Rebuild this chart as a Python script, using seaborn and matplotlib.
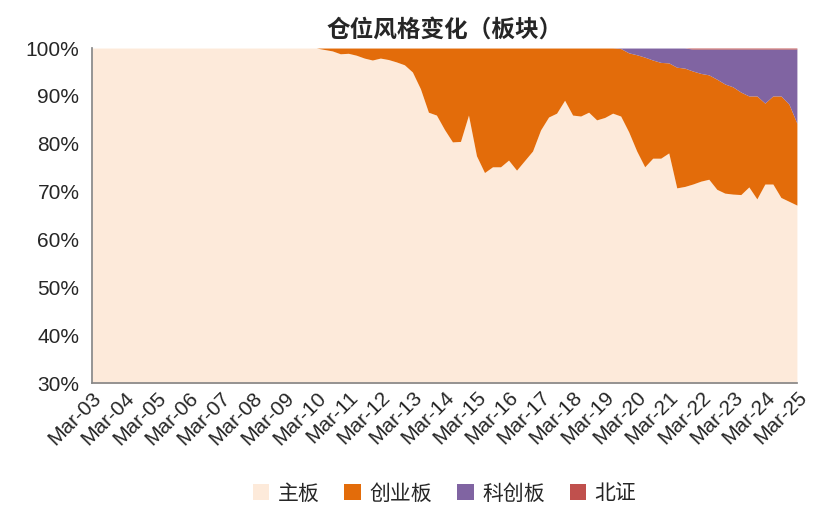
import numpy as np
import pandas as pd
import matplotlib
matplotlib.use("Agg")
import matplotlib.pyplot as plt
import seaborn as sns

sns.set_theme(style="white")
plt.rcParams['font.family'] = 'Noto Sans CJK SC'

# 季度数据 2003Q1 - 2025Q1
quarters = pd.period_range("2003Q1", "2025Q1", freq="Q")
main_late = [100, 99.7, 99.4, 98.8, 98.9, 98.5, 97.9, 97.5, 97.9, 97.6,
             97.1, 96.5, 95, 91.5, 86.6, 86, 83, 80.4, 80.5, 86,
             77.5, 74, 75.2, 75.2, 76.6, 74.5, 76.5, 78.5, 82.9, 85.6,
             86.4, 89.1, 86, 85.8, 86.6, 85, 85.5, 86.4, 85.8, 82.5,
             78.5, 75.2, 77, 77, 78.1, 70.8, 71.1, 71.6, 72.2, 72.6,
             70.5, 69.7, 69.5, 69.4, 71, 68.5, 71.6, 71.6, 68.8, 68, 67.2]
main_board = [100] * (len(quarters) - len(main_late)) + main_late
top_late = [99.9, 99, 98.6, 98.1, 97.5, 97, 96.9, 96, 95.8, 95.2,
            94.7, 94.4, 93.5, 92.5, 91.9, 90.8, 90, 90, 88.5, 90,
            90, 88.3, 84.3]
bse_late = [0] * 9 + [0.2] * 14

top_gem = [100] * (len(quarters) - len(top_late)) + top_late
bse = [0] * (len(quarters) - len(bse_late)) + bse_late
gem = [t - m for t, m in zip(top_gem, main_board)]
star = [100 - t - b for t, b in zip(top_gem, bse)]

labels = ["主板", "创业板", "科创板", "北证"]
colors = ["#FDEADA", "#E36C0A", "#8064A2", "#C0504D"]

x = np.arange(len(quarters))
fig = plt.figure(figsize=(8.14, 5.11), dpi=100)
ax = fig.add_axes([0.113, 0.25, 0.866, 0.656])
ax.stackplot(x, main_board, gem, star, bse, colors=colors, labels=labels, linewidth=0)

ax.set_xlim(0, len(x) - 1)
ax.set_ylim(30, 100)
ax.set_yticks(range(30, 101, 10))
ax.set_yticklabels([f"{v}%" for v in range(30, 101, 10)], fontsize=15, family="Liberation Sans")
tick_pos = x[::4]
ax.set_xticks(tick_pos)
ax.set_xticklabels([f"Mar-{str(q.year)[2:]}" for q in quarters[::4]], rotation=45,
                   ha="right", rotation_mode="anchor", fontsize=15, family="Liberation Sans")
ax.tick_params(axis="x", length=4, direction="in", color="#888888")
ax.tick_params(axis="y", pad=3)
for s in ["top", "right"]:
    ax.spines[s].set_visible(False)
for s in ["left", "bottom"]:
    ax.spines[s].set_color("#888888")
ax.set_title("仓位风格变化（板块）", fontsize=17, fontweight="bold", pad=8)
ax.legend(loc="upper center", bbox_to_anchor=(0.5, -0.24), ncol=4, frameon=False,
          fontsize=15, handlelength=0.8, handleheight=0.8, columnspacing=1.2, handletextpad=0.4)

plt.savefig("out.png")
